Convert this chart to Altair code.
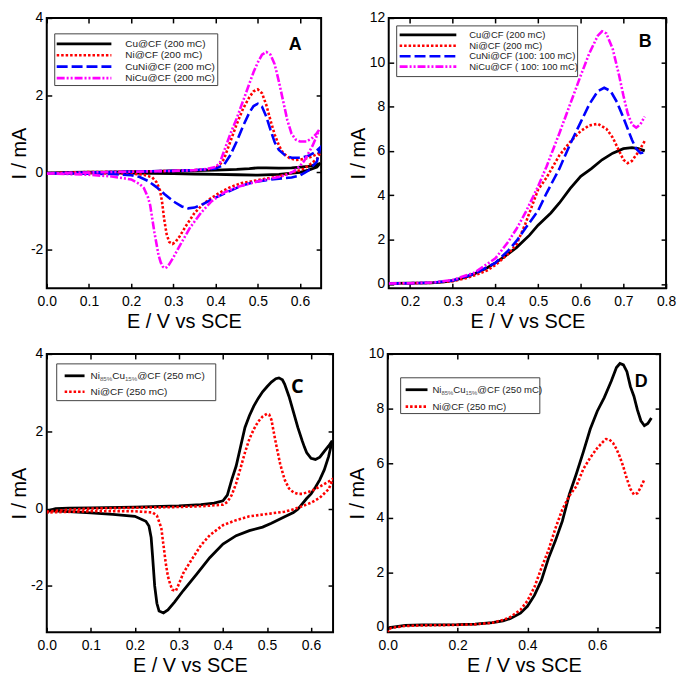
import altair as alt
import pandas as pd

FONT = "Liberation Sans"

# ---------------- Panel A (CV, 200 mC) ----------------
A_cu_E = [0.0, 0.05, 0.1, 0.15, 0.2, 0.25, 0.3, 0.35, 0.4, 0.45, 0.48, 0.5, 0.52, 0.55, 0.58, 0.6, 0.62, 0.64, 0.648,
          0.64, 0.62, 0.6, 0.55, 0.5, 0.45, 0.4, 0.35, 0.3, 0.2, 0.1, 0.0]
A_cu_I = [-0.02, 0.0, 0.01, 0.01, 0.02, 0.03, 0.04, 0.05, 0.06, 0.08, 0.1, 0.12, 0.12, 0.11, 0.12, 0.14, 0.16, 0.2, 0.24,
          0.14, 0.06, 0.0, -0.05, -0.07, -0.06, -0.05, -0.04, -0.03, -0.02, -0.01, -0.02]

A_ni_E = [0.0, 0.05, 0.1, 0.2, 0.3, 0.35, 0.38, 0.4, 0.41, 0.42, 0.435, 0.45, 0.465, 0.48, 0.49, 0.5, 0.51, 0.52, 0.53,
          0.54, 0.55, 0.56, 0.575, 0.59, 0.61, 0.625, 0.64, 0.648,
          0.64, 0.625, 0.61, 0.59, 0.57, 0.55, 0.52, 0.49, 0.46, 0.435, 0.41, 0.39, 0.37, 0.35, 0.33, 0.315, 0.305,
          0.298, 0.29, 0.284, 0.278, 0.273, 0.268, 0.26, 0.25, 0.23, 0.2, 0.15, 0.1, 0.05, 0.0]
A_ni_I = [-0.02, 0.0, 0.01, 0.02, 0.04, 0.06, 0.08, 0.12, 0.2, 0.35, 0.8, 1.25, 1.65, 1.95, 2.1, 2.15, 2.05, 1.75, 1.35,
          0.98, 0.7, 0.5, 0.37, 0.32, 0.35, 0.4, 0.47, 0.52,
          0.35, 0.22, 0.1, 0.02, -0.04, -0.1, -0.16, -0.22, -0.28, -0.38, -0.52, -0.66, -0.82, -1.05, -1.38, -1.65, -1.8,
          -1.85, -1.8, -1.6, -1.2, -0.75, -0.45, -0.25, -0.13, -0.06, -0.03, -0.02, -0.01, -0.02, -0.02]

A_cuni_E = [0.0, 0.1, 0.2, 0.3, 0.35, 0.4, 0.42, 0.435, 0.45, 0.465, 0.48, 0.49, 0.5, 0.51, 0.52, 0.53, 0.54, 0.55, 0.565,
            0.58, 0.6, 0.62, 0.635, 0.648,
            0.64, 0.62, 0.6, 0.58, 0.55, 0.52, 0.49, 0.46, 0.43, 0.4, 0.37, 0.35, 0.335, 0.32, 0.3, 0.28, 0.26, 0.24,
            0.22, 0.2, 0.15, 0.1, 0.0]
A_cuni_I = [-0.02, 0.0, 0.02, 0.04, 0.06, 0.1, 0.2, 0.45, 0.8, 1.2, 1.55, 1.72, 1.78, 1.7, 1.45, 1.1, 0.78, 0.58, 0.44,
            0.38, 0.38, 0.43, 0.52, 0.65,
            0.28, 0.05, -0.08, -0.13, -0.16, -0.2, -0.25, -0.35, -0.5, -0.65, -0.82, -0.91, -0.93, -0.88, -0.75, -0.57,
            -0.38, -0.22, -0.12, -0.07, -0.04, -0.03, -0.02]

A_nicu_E = [0.0, 0.1, 0.2, 0.3, 0.35, 0.38, 0.4, 0.41, 0.42, 0.435, 0.45, 0.465, 0.48, 0.49, 0.5, 0.51, 0.52, 0.53, 0.54,
            0.55, 0.56, 0.57, 0.58, 0.59, 0.6, 0.615, 0.63, 0.64, 0.645,
            0.64, 0.63, 0.62, 0.61, 0.6, 0.585, 0.57, 0.55, 0.52, 0.49, 0.45, 0.42, 0.39, 0.365, 0.34, 0.32, 0.31, 0.3,
            0.29, 0.285, 0.28, 0.275, 0.27, 0.265, 0.26, 0.255, 0.25, 0.245, 0.24, 0.23, 0.22, 0.2, 0.15, 0.1, 0.05, 0.0]
A_nicu_I = [-0.03, 0.0, 0.02, 0.04, 0.06, 0.09, 0.14, 0.25, 0.55, 1.0, 1.4, 1.85, 2.3, 2.6, 2.85, 3.05, 3.12, 3.05, 2.8,
            2.35, 1.85, 1.35, 1.0, 0.85, 0.8, 0.8, 0.9, 1.02, 1.1,
            0.95, 0.7, 0.5, 0.3, 0.17, 0.03, -0.05, -0.12, -0.18, -0.26, -0.38, -0.52, -0.75, -1.05, -1.42, -1.8, -2.0,
            -2.2, -2.38, -2.45, -2.48, -2.44, -2.33, -2.15, -1.85, -1.55, -1.2, -0.85, -0.65, -0.4, -0.3, -0.18, -0.1,
            -0.06, -0.04, -0.03]

# ---------------- Panel B (LSV) ----------------
B_cu_E = [0.15, 0.2, 0.25, 0.28, 0.3, 0.33, 0.35, 0.38, 0.4, 0.43, 0.45, 0.48, 0.5, 0.53, 0.55, 0.575, 0.6, 0.625, 0.65,
          0.675, 0.7, 0.72, 0.735, 0.75]
B_cu_I = [0.02, 0.03, 0.05, 0.09, 0.15, 0.3, 0.45, 0.72, 0.95, 1.35, 1.65, 2.2, 2.65, 3.2, 3.65, 4.3, 4.85, 5.2, 5.6,
          5.9, 6.1, 6.15, 6.1, 6.0]

B_ni_E = [0.15, 0.2, 0.25, 0.3, 0.33, 0.35, 0.38, 0.4, 0.43, 0.45, 0.47, 0.5, 0.52, 0.55, 0.575, 0.6, 0.62, 0.64, 0.66,
          0.675, 0.69, 0.7, 0.71, 0.72, 0.735, 0.75]
B_ni_I = [0.02, 0.03, 0.05, 0.12, 0.25, 0.38, 0.6, 0.85, 1.35, 1.8, 2.7, 4.25, 4.8, 5.8, 6.4, 6.9, 7.15, 7.22, 7.0,
          6.6, 6.0, 5.6, 5.45, 5.55, 5.95, 6.45]

B_cuni_E = [0.15, 0.2, 0.25, 0.3, 0.35, 0.4, 0.43, 0.45, 0.47, 0.5, 0.52, 0.55, 0.575, 0.6, 0.62, 0.64, 0.655, 0.67,
            0.685, 0.7, 0.71, 0.72, 0.73, 0.74, 0.75]
B_cuni_I = [0.02, 0.03, 0.05, 0.15, 0.45, 0.95, 1.5, 1.95, 2.5, 3.3, 4.1, 5.2, 6.3, 7.3, 8.1, 8.7, 8.85, 8.7,
            8.2, 7.5, 7.0, 6.5, 6.1, 5.9, 5.95]

B_nicu_E = [0.15, 0.2, 0.25, 0.3, 0.35, 0.4, 0.43, 0.45, 0.47, 0.5, 0.52, 0.55, 0.575, 0.6, 0.62, 0.64, 0.65, 0.66,
            0.675, 0.69, 0.7, 0.71, 0.72, 0.73, 0.74, 0.75]
B_nicu_I = [0.02, 0.03, 0.06, 0.18, 0.5, 1.15, 1.9, 2.5, 3.2, 4.4, 5.3, 6.8, 8.1, 9.4, 10.4, 11.2, 11.4, 11.3,
            10.6, 9.4, 8.5, 7.7, 7.2, 7.05, 7.2, 7.55]

# ---------------- Panel C (CV, 250 mC) ----------------
C_alloy_E = [0.0, 0.005, 0.02, 0.05, 0.1, 0.2, 0.3, 0.35, 0.38, 0.4, 0.41, 0.42, 0.43, 0.44, 0.45, 0.46, 0.47, 0.48,
             0.49, 0.5, 0.51, 0.52, 0.527, 0.535, 0.54, 0.55, 0.555, 0.56, 0.57, 0.58, 0.585, 0.59, 0.6, 0.61, 0.62,
             0.63, 0.64, 0.648,
             0.64, 0.63, 0.62, 0.61, 0.6, 0.59, 0.58, 0.57, 0.56, 0.54, 0.51, 0.49, 0.46, 0.43, 0.4, 0.37, 0.34, 0.31,
             0.29, 0.275, 0.265, 0.255, 0.25, 0.245, 0.24, 0.237, 0.232, 0.225, 0.2, 0.15, 0.1, 0.05, 0.0]
C_alloy_I = [-0.12, -0.05, 0.0, 0.01, 0.02, 0.04, 0.07, 0.1, 0.14, 0.2, 0.35, 0.75, 1.1, 1.6, 2.1, 2.4, 2.65, 2.85,
             3.02, 3.15, 3.27, 3.36, 3.38, 3.33, 3.22, 2.9, 2.7, 2.5, 2.1, 1.75, 1.59, 1.45, 1.3, 1.27, 1.33,
             1.48, 1.62, 1.75,
             1.35, 1.0, 0.75, 0.55, 0.38, 0.26, 0.12, -0.02, -0.1, -0.21, -0.38, -0.48, -0.57, -0.7, -0.92, -1.27,
             -1.7, -2.12, -2.42, -2.62, -2.7, -2.65, -2.45, -2.0, -1.2, -0.75, -0.45, -0.33, -0.2, -0.15, -0.11, -0.08,
             -0.05]

C_ni_E = [0.0, 0.05, 0.1, 0.2, 0.3, 0.35, 0.4, 0.41, 0.42, 0.43, 0.44, 0.45, 0.46, 0.47, 0.48, 0.49, 0.5, 0.505, 0.51,
          0.515, 0.52, 0.53, 0.54, 0.55, 0.56, 0.57, 0.58, 0.6, 0.62, 0.64, 0.65,
          0.64, 0.62, 0.6, 0.58, 0.56, 0.54, 0.5, 0.46, 0.43, 0.4, 0.37, 0.35, 0.33, 0.31, 0.3, 0.293, 0.285, 0.28,
          0.275, 0.27, 0.265, 0.26, 0.25, 0.24, 0.2, 0.1, 0.0]
C_ni_I = [-0.08, -0.03, 0.0, 0.02, 0.04, 0.06, 0.1, 0.17, 0.35, 0.65, 1.05, 1.45, 1.8, 2.05, 2.25, 2.38, 2.45, 2.43,
          2.3, 2.0, 1.7, 1.15, 0.75, 0.52, 0.42, 0.38, 0.38, 0.45, 0.57, 0.7, 0.77,
          0.5, 0.28, 0.15, 0.06, -0.02, -0.08, -0.14, -0.2, -0.3, -0.43, -0.69, -0.95, -1.3, -1.67, -1.95, -2.13,
          -2.1, -1.95, -1.75, -1.4, -0.95, -0.5, -0.18, -0.1, -0.07, -0.07, -0.1]

# ---------------- Panel D (LSV, 250 mC) ----------------
D_alloy_E = [0.0, 0.005, 0.02, 0.05, 0.1, 0.2, 0.25, 0.3, 0.33, 0.35, 0.38, 0.4, 0.42, 0.44, 0.46, 0.48, 0.5, 0.52,
             0.54, 0.56, 0.58, 0.6, 0.62, 0.64, 0.655, 0.665, 0.675, 0.685, 0.695, 0.705, 0.715, 0.725, 0.735, 0.745,
             0.755]
D_alloy_I = [-0.1, -0.03, 0.0, 0.05, 0.07, 0.08, 0.1, 0.15, 0.22, 0.3, 0.5, 0.75, 1.15, 1.7, 2.5, 3.15, 3.87, 4.85,
             5.6, 6.4, 7.25, 7.9, 8.4, 9.0, 9.5, 9.65, 9.6, 9.35, 8.8, 8.45, 7.95, 7.55, 7.37, 7.45, 7.65]

D_ni_E = [0.0, 0.003, 0.01, 0.05, 0.1, 0.2, 0.25, 0.3, 0.33, 0.35, 0.38, 0.4, 0.42, 0.44, 0.46, 0.48, 0.5, 0.52, 0.54,
          0.56, 0.58, 0.6, 0.615, 0.625, 0.635, 0.645, 0.655, 0.665, 0.675, 0.685, 0.695, 0.705, 0.715, 0.725, 0.735]
D_ni_I = [-0.22, -0.1, -0.04, 0.03, 0.05, 0.07, 0.09, 0.15, 0.25, 0.35, 0.62, 0.95, 1.45, 2.15, 2.8, 3.6, 4.3, 4.8,
          5.15, 5.78, 6.2, 6.55, 6.76, 6.88, 6.86, 6.74, 6.52, 6.22, 5.85, 5.42, 5.05, 4.85, 4.9, 5.12, 5.4]

# ---------------- Text ----------------
A_labels = ["Cu@CF (200 mC)", "Ni@CF (200 mC)", "CuNi@CF (200 mC)", "NiCu@CF (200 mC)"]
B_labels = ["Cu@CF (200 mC)", "Ni@CF (200 mC)", "CuNi@CF (100: 100 mC)", "NiCu@CF ( 100: 100 mC)"]
alloy_parts = ["Ni", "85%", "Cu", "15%", "@CF (250 mC)"]
CD_second = "Ni@CF (250 mC)"
x_title = "E / V vs SCE"
y_title = "I / mA"

STYLE = {
    "black": dict(color="black", strokeWidth=2.8),
    "red": dict(color="#ff0000", strokeWidth=2.6, strokeDash=[2.5, 2]),
    "blue": dict(color="#0000ff", strokeWidth=2.6, strokeDash=[11, 4]),
    "magenta": dict(color="#ff00ff", strokeWidth=2.6, strokeDash=[8, 2, 2, 2, 2, 2]),
}

ONE = pd.DataFrame({"d": [0]})


def text_layer(txt, x, y, size=10, weight="normal", color="#222", font=FONT, align="left"):
    return alt.Chart(pd.DataFrame({"t": [txt]})).mark_text(
        align=align, baseline="middle", fontSize=size, fontWeight=weight, color=color, font=font
    ).encode(x=alt.value(x), y=alt.value(y), text="t:N")


def panel(series, xdom, ydom, xticks, yticks, xfmt, w, h, legend_layers, letter_layer):
    xs = alt.Scale(domain=xdom, nice=False, zero=False)
    ys = alt.Scale(domain=ydom, nice=False, zero=False)
    layers = []
    for i, (E, I, sty) in enumerate(series):
        df = pd.DataFrame({"E": E, "I": I, "k": list(range(len(E)))})
        if i == 0:
            xax = alt.Axis(orient="bottom", values=xticks, format=xfmt, title=x_title, offset=-5, tickSize=5,
                           labelFlush=False, labelPadding=6, titlePadding=3, domain=False, grid=False)
            yax = alt.Axis(orient="left", values=yticks, labelExpr="toString(datum.value)", title=y_title,
                           offset=-5, tickSize=5, labelPadding=4, titlePadding=1, domain=False, grid=False)
        else:
            xax = None
            yax = None
        layers.append(
            alt.Chart(df).mark_line(clip=True, **STYLE[sty]).encode(
                x=alt.X("E:Q", scale=xs, axis=xax),
                y=alt.Y("I:Q", scale=ys, axis=yax),
                order="k:Q",
            )
        )
    E0, I0, _ = series[0]
    df0 = pd.DataFrame({"E": E0, "I": I0, "k": list(range(len(E0)))})
    mirror = alt.Chart(df0).mark_line(opacity=0).encode(
        x=alt.X("E:Q", scale=xs, axis=alt.Axis(orient="top", values=xticks, labels=False, title=None, offset=-5,
                                                tickSize=5, domain=False, grid=False)),
        y=alt.Y("I:Q", scale=ys, axis=alt.Axis(orient="right", values=yticks, labels=False, title=None, offset=-5,
                                                tickSize=5, domain=False, grid=False)),
        order="k:Q",
    )
    return alt.layer(*layers, mirror, *legend_layers, letter_layer).resolve_axis(
        x="independent", y="independent").properties(width=w, height=h)


def legend_simple(labels, styles, box, sym_x, text_x, rows, size=10):
    out = [alt.Chart(ONE).mark_rect(fill="white", stroke="#444", strokeWidth=1).encode(
        x=alt.value(box[0]), x2=alt.value(box[1]), y=alt.value(box[2]), y2=alt.value(box[3]))]
    for lab, sty, ry in zip(labels, styles, rows):
        out.append(alt.Chart(ONE).mark_rule(**STYLE[sty]).encode(
            x=alt.value(sym_x[0]), x2=alt.value(sym_x[1]), y=alt.value(ry)))
        out.append(text_layer(lab, text_x, ry, size=size))
    return out


def legend_alloy(box, sym_x, text_x, rows, size=10):
    out = [alt.Chart(ONE).mark_rect(fill="white", stroke="#444", strokeWidth=1).encode(
        x=alt.value(box[0]), x2=alt.value(box[1]), y=alt.value(box[2]), y2=alt.value(box[3]))]
    out.append(alt.Chart(ONE).mark_rule(**STYLE["black"]).encode(
        x=alt.value(sym_x[0]), x2=alt.value(sym_x[1]), y=alt.value(rows[0])))
    out.append(alt.Chart(ONE).mark_rule(**STYLE["red"]).encode(
        x=alt.value(sym_x[0]), x2=alt.value(sym_x[1]), y=alt.value(rows[1])))
    sub = size * 0.62
    widths = [0.944 * size, 2.0 * sub, 1.278 * size, 2.0 * sub]
    x = text_x
    for j, part in enumerate(alloy_parts):
        if j in (1, 3):
            out.append(text_layer(part, x, rows[0] + 3, size=sub, color="#555"))
        else:
            out.append(text_layer(part, x, rows[0], size=size))
        if j < len(widths):
            x += widths[j]
    out.append(text_layer(CD_second, text_x, rows[1], size=size))
    return out


pA = panel([(A_cu_E, A_cu_I, "black"), (A_ni_E, A_ni_I, "red"), (A_cuni_E, A_cuni_I, "blue"),
            (A_nicu_E, A_nicu_I, "magenta")],
           [0, 0.65], [-3, 4], [0, 0.1, 0.2, 0.3, 0.4, 0.5, 0.6], [-2, 0, 2, 4], ".1f", 276, 272,
           legend_simple(A_labels, ["black", "red", "blue", "magenta"], (8, 172, 16, 68), (10, 65), 79,
                         [26, 37.5, 49, 60.5]),
           text_layer("A", 250, 27, size=18, weight="bold", color="black", align="center"))

pB = panel([(B_cu_E, B_cu_I, "black"), (B_ni_E, B_ni_I, "red"), (B_cuni_E, B_cuni_I, "blue"),
            (B_nicu_E, B_nicu_I, "magenta")],
           [0.15, 0.8], [-0.2, 12], [0.2, 0.3, 0.4, 0.5, 0.6, 0.7, 0.8], [0, 2, 4, 6, 8, 10, 12], ".1f", 279, 272,
           legend_simple(B_labels, ["black", "red", "blue", "magenta"], (8, 190, 8, 59), (11, 68), 81,
                         [17, 28, 38.5, 49], size=9.5),
           text_layer("B", 258, 24, size=18, weight="bold", color="black", align="center"))

pC = panel([(C_alloy_E, C_alloy_I, "black"), (C_ni_E, C_ni_I, "red")],
           [0, 0.65], [-3.2, 4], [0, 0.1, 0.2, 0.3, 0.4, 0.5, 0.6], [-2, 0, 2, 4], ".1f", 288, 280,
           legend_alloy((10, 170, 10, 47), (18, 38), 44, [22, 38]),
           text_layer("C", 252, 33, size=20, weight="bold", color="black", align="center",
                      font="Open Sans"))

pD = panel([(D_alloy_E, D_alloy_I, "black"), (D_ni_E, D_ni_I, "red")],
           [0, 0.78], [-0.2, 10], [0, 0.2, 0.4, 0.6], [0, 2, 4, 6, 8, 10], ".1f", 274, 280,
           legend_alloy((13, 153, 24, 60), (18, 40), 45, [36, 53], size=9.6),
           text_layer("D", 255, 28, size=18, weight="bold", color="black", align="center"))

row1 = alt.hconcat(pA, pB, spacing=24)
row2 = alt.hconcat(pC, pD, spacing=11)

chart = alt.vconcat(row1, row2, spacing=14).properties(padding=0).configure_view(
    stroke="black", strokeWidth=2
).configure_axis(
    labelFont=FONT, labelFontSize=14, labelColor="black",
    titleFont=FONT, titleFontSize=20, titleFontWeight="normal", titleColor="black",
    tickColor="black", tickWidth=1.5,
)

chart.save("out.html", embed_options={"renderer": "svg", "actions": False})
